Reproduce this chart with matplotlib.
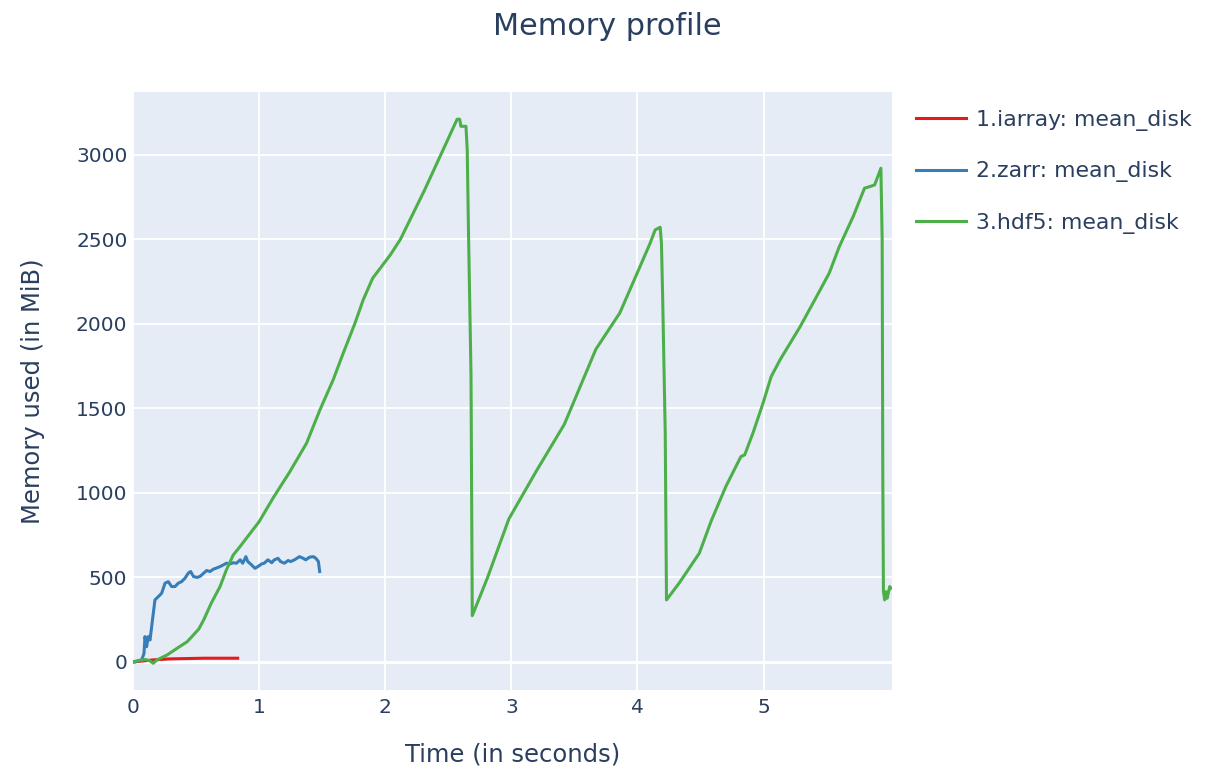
import matplotlib
matplotlib.use('Agg')
import matplotlib.pyplot as plt

# 1.iarray: mean_disk
iarray_t = [0.0, 0.16, 0.29, 0.56, 0.83]
iarray_mem = [0, 12, 18, 22, 22]

# 2.zarr: mean_disk
zarr_t = [0.0, 0.016, 0.069, 0.087, 0.095, 0.108, 0.121, 0.135, 0.161, 0.174,
          0.20, 0.227, 0.254, 0.28, 0.306, 0.333, 0.359, 0.385, 0.412, 0.438,
          0.457, 0.48, 0.51, 0.535, 0.56, 0.584, 0.61, 0.64, 0.66, 0.69,
          0.716, 0.74, 0.77, 0.795, 0.82, 0.85, 0.87, 0.895, 0.91, 0.94,
          0.967, 0.99, 1.02, 1.04, 1.07, 1.10, 1.12, 1.15, 1.17, 1.20,
          1.23, 1.25, 1.28, 1.32, 1.35, 1.37, 1.40, 1.43, 1.45, 1.47, 1.48]
zarr_mem = [0, 0, 12, 50, 150, 90, 150, 130, 288, 367,
            386, 406, 466, 475, 446, 446, 466, 475, 495, 525,
            535, 505, 500, 508, 525, 541, 535, 550, 555, 564,
            574, 584, 580, 587, 584, 604, 584, 623, 594, 574,
            554, 564, 580, 584, 604, 587, 604, 613, 594, 584,
            600, 594, 604, 623, 613, 604, 620, 623, 613, 594, 535]

# 3.hdf5: mean_disk
hdf5_t = [0.0, 0.05, 0.10, 0.135, 0.16, 0.19, 0.27, 0.35, 0.43, 0.52,
          0.56, 0.62, 0.69, 0.74, 0.795, 0.848, 1.0, 1.11, 1.244, 1.376,
          1.482, 1.587, 1.667, 1.76, 1.825, 1.90, 2.04, 2.12, 2.31, 2.46,
          2.57, 2.59, 2.60, 2.64, 2.65, 2.66, 2.68, 2.69, 2.81, 2.98,
          3.20, 3.42, 3.67, 3.86, 4.02, 4.10, 4.14, 4.18, 4.19, 4.20,
          4.22, 4.23, 4.33, 4.49, 4.585, 4.70, 4.82, 4.85, 4.915, 4.995,
          5.06, 5.13, 5.29, 5.42, 5.52, 5.60, 5.71, 5.80, 5.84, 5.88,
          5.93, 5.94, 5.945, 5.95, 5.96, 5.97, 5.98, 6.00, 6.01]
hdf5_mem = [0, 10, 14, 6, -8, 12, 41, 81, 120, 193,
            248, 347, 446, 544, 633, 682, 830, 969, 1126, 1294,
            1491, 1669, 1827, 2004, 2142, 2270, 2408, 2500, 2789, 3032,
            3211, 3211, 3169, 3169, 3032, 2546, 1700, 274, 497, 846,
            1132, 1406, 1850, 2065, 2339, 2477, 2556, 2572, 2477, 2142,
            1355, 367, 466, 643, 835, 1037, 1215, 1225, 1353, 1530,
            1688, 1787, 1984, 2162, 2300, 2457, 2635, 2803, 2812, 2822,
            2921, 2497, 1116, 416, 367, 416, 377, 446, 436]

series = [
    ('1.iarray: mean_disk', iarray_t, iarray_mem, '#E41A1C'),
    ('2.zarr: mean_disk', zarr_t, zarr_mem, '#377EB8'),
    ('3.hdf5: mean_disk', hdf5_t, hdf5_mem, '#4DAF4A'),
]

x_ticks = [0, 1, 2, 3, 4, 5]
y_ticks = [0, 500, 1000, 1500, 2000, 2500, 3000]

text_color = '#2a3f5f'
plt.rcParams['font.family'] = ['DejaVu Sans']

fig = plt.figure(figsize=(12.05, 7.69), dpi=100)
ax = fig.add_axes([133 / 1205, 1 - 690 / 769, (892 - 133) / 1205, (690 - 92) / 769])
ax.set_facecolor('#E5ECF6')

for label, t, mem, color in series:
    ax.plot(t, mem, color=color, linewidth=2.2, label=label, zorder=3)

ax.set_xlim(0, 6.018)
ax.set_ylim(-166, 3372)
ax.set_xticks(x_ticks)
ax.set_yticks(y_ticks)
ax.grid(True, color='white', linewidth=1.3, zorder=0)
ax.set_axisbelow(True)
ax.axhline(0, color='white', linewidth=2.2, zorder=1)
for s in ax.spines.values():
    s.set_visible(False)
ax.tick_params(length=0, labelsize=14.5, labelcolor=text_color)
ax.tick_params(axis='y', pad=4)
ax.tick_params(axis='x', pad=6)

ax.set_xlabel('Time (in seconds)', fontsize=17.5, color=text_color, labelpad=18)
ax.set_ylabel('Memory used (in MiB)', fontsize=17.5, color=text_color, labelpad=22)
fig.suptitle('Memory profile', fontsize=21.8, color=text_color, x=0.504, y=0.985)

fig.legend(loc='upper left', bbox_to_anchor=(916 / 1205, 1 - 110 / 769),
           frameon=False, borderpad=0, borderaxespad=0, fontsize=15.8,
           handlelength=2.3, handletextpad=0.45, labelspacing=1.38,
           labelcolor=text_color)

fig.savefig('out.png', dpi=100)
